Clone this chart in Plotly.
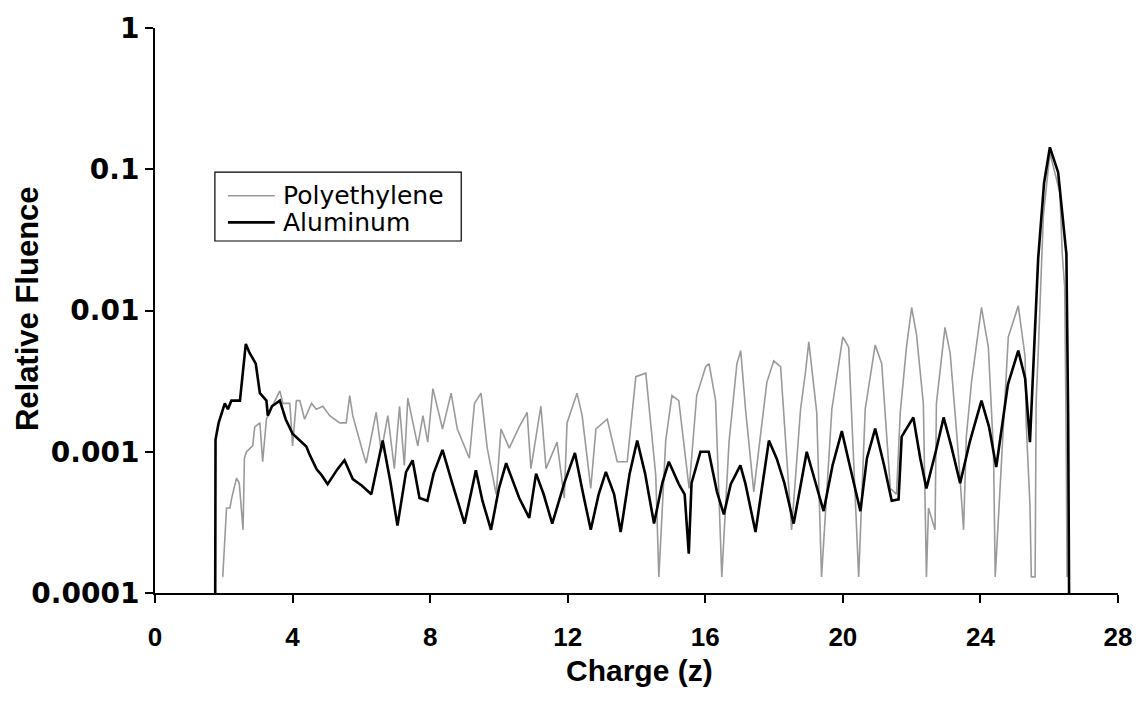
import plotly.graph_objects as go

# Aluminum (black) - charge z vs relative fluence
al_z = [1.75, 1.76, 1.85, 2.03, 2.12, 2.22, 2.47, 2.55, 2.64, 2.75, 2.93, 3.05, 3.24, 3.28, 3.40, 3.63,
        3.80, 4.00, 4.20, 4.40, 4.50, 4.70, 4.85, 5.02, 5.30, 5.51, 5.75, 6.00, 6.29, 6.62, 6.85, 7.05,
        7.30, 7.49, 7.69, 7.92, 8.10, 8.36, 8.65, 9.00, 9.33, 9.52, 9.77, 10.00, 10.21, 10.59, 10.88,
        11.08, 11.30, 11.55, 11.90, 12.21, 12.45, 12.67, 12.90, 13.11, 13.35, 13.54, 13.80, 14.02,
        14.25, 14.51, 14.75, 14.94, 15.23, 15.40, 15.52, 15.60, 15.86, 16.10, 16.34, 16.54, 16.74,
        17.02, 17.17, 17.46, 17.85, 18.08, 18.30, 18.57, 18.95, 19.20, 19.44, 19.70, 19.97, 20.20,
        20.51, 20.70, 20.94, 21.20, 21.42, 21.62, 21.71, 22.05, 22.25, 22.43, 22.70, 22.93, 23.15,
        23.41, 23.70, 24.03, 24.25, 24.46, 24.80, 25.10, 25.30, 25.44, 25.58, 25.68, 25.85, 26.02,
        26.26, 26.40, 26.50, 26.55, 26.58]
al_f = [0.00008, 0.00122, 0.0016, 0.0022, 0.0020, 0.0023, 0.0023, 0.0035, 0.0058, 0.0050, 0.0042,
        0.0026, 0.0023, 0.0018, 0.0021, 0.0023, 0.0017, 0.00134, 0.0012, 0.00109, 0.00095, 0.00075,
        0.00068, 0.00059, 0.00075, 0.00087, 0.00064, 0.00058, 0.0005, 0.0012, 0.0006, 0.0003,
        0.00072, 0.00087, 0.00047, 0.00045, 0.0007, 0.00103, 0.00059, 0.00031, 0.00074, 0.00045,
        0.00028, 0.00055, 0.00083, 0.00047, 0.00034, 0.0007, 0.0005, 0.00031, 0.0006, 0.00098,
        0.0005, 0.00028, 0.0005, 0.00072, 0.0005, 0.00027, 0.0007, 0.0012, 0.0007, 0.00031, 0.0006,
        0.00085, 0.00059, 0.0005, 0.00019, 0.0006, 0.001, 0.001, 0.00052, 0.00036, 0.00059, 0.0008,
        0.00059, 0.00027, 0.0012, 0.00089, 0.0006, 0.00031, 0.001, 0.0006, 0.00038, 0.0008, 0.0014,
        0.0008, 0.00038, 0.0009, 0.00146, 0.0008, 0.00045, 0.00046, 0.00128, 0.00175, 0.0009,
        0.00055, 0.001, 0.00175, 0.0011, 0.0006, 0.0012, 0.0023, 0.0015, 0.00078, 0.003, 0.0052,
        0.0033, 0.00117, 0.008, 0.0236, 0.08, 0.143, 0.095, 0.045, 0.025, 0.0018, 0.00008]

# Polyethylene (gray)
pe_z = [1.97, 2.08, 2.18, 2.23, 2.37, 2.45, 2.56, 2.60, 2.66, 2.84, 2.90, 3.05, 3.13, 3.24, 3.45,
        3.63, 3.72, 3.92, 4.00, 4.11, 4.21, 4.35, 4.55, 4.69, 4.88, 5.08, 5.37, 5.56, 5.66, 5.75,
        6.04, 6.14, 6.43, 6.58, 6.77, 6.96, 7.11, 7.25, 7.35, 7.64, 7.79, 7.93, 8.08, 8.36, 8.61,
        8.79, 9.14, 9.29, 9.48, 9.66, 9.92, 10.06, 10.30, 10.59, 10.82, 10.93, 11.22, 11.37, 11.69,
        11.90, 11.98, 12.27, 12.42, 12.67, 12.82, 13.15, 13.44, 13.73, 13.98, 14.27, 14.56, 14.65,
        14.85, 15.03, 15.23, 15.53, 15.75, 16.01, 16.11, 16.30, 16.48, 16.69, 16.92, 17.03, 17.17,
        17.41, 17.56, 17.79, 17.99, 18.19, 18.51, 18.77, 18.91, 19.01, 19.24, 19.38, 19.68, 20.00,
        20.17, 20.46, 20.65, 20.94, 21.13, 21.23, 21.38, 21.56, 21.67, 21.85, 22.00, 22.14, 22.34,
        22.43, 22.49, 22.68, 22.72, 22.97, 23.12, 23.36, 23.51, 23.59, 23.74, 24.03, 24.23, 24.38,
        24.43, 24.81, 25.10, 25.30, 25.33, 25.44, 25.48, 25.59, 25.62, 25.68, 25.83, 26.02, 26.31,
        26.38, 26.45, 26.49, 26.52]
pe_f = [0.00013, 0.0004, 0.0004, 0.00047, 0.00065, 0.0006, 0.00028, 0.0009, 0.001, 0.0011, 0.0015,
        0.0016, 0.00085, 0.0017, 0.0022, 0.0027, 0.0022, 0.0022, 0.0011, 0.0023, 0.0023, 0.0017,
        0.0022, 0.002, 0.0021, 0.0018, 0.0016, 0.0016, 0.0025, 0.0018, 0.001, 0.00083, 0.0019,
        0.001, 0.0018, 0.00076, 0.0021, 0.0008, 0.0024, 0.0011, 0.0018, 0.00117, 0.0028, 0.00145,
        0.0026, 0.00145, 0.0009, 0.0022, 0.0026, 0.00106, 0.0005, 0.00145, 0.00106, 0.0015, 0.0019,
        0.00076, 0.0021, 0.00076, 0.00117, 0.00047, 0.0016, 0.0026, 0.0018, 0.00055, 0.00145,
        0.0017, 0.00085, 0.00085, 0.0034, 0.0036, 0.00068, 0.00013, 0.0012, 0.0025, 0.0023, 0.00055,
        0.0025, 0.0040, 0.0042, 0.0023, 0.00013, 0.00117, 0.0042, 0.0052, 0.002, 0.00052, 0.00106,
        0.0031, 0.0044, 0.004, 0.00028, 0.002, 0.0036, 0.006, 0.0019, 0.00013, 0.002, 0.0065,
        0.0055, 0.00013, 0.002, 0.0057, 0.0042, 0.0019, 0.00055, 0.0005, 0.0019, 0.0055, 0.0105,
        0.0068, 0.0022, 0.00013, 0.0004, 0.00028, 0.0022, 0.0076, 0.005, 0.00095, 0.00028, 0.00128,
        0.0031, 0.0105, 0.0055, 0.001, 0.00013, 0.0065, 0.0108, 0.0047, 0.0016, 0.00042, 0.00013,
        0.00013, 0.0023, 0.005, 0.047, 0.13, 0.0685, 0.025, 0.0146, 0.0016, 0.00013]

x_ticks = [0, 4, 8, 12, 16, 20, 24, 28]
y_tickvals = [0.0001, 0.001, 0.01, 0.1, 1]
y_ticktext = ["0.0001", "0.001", "0.01", "0.1", "1"]
series_names = ["Polyethylene", "Aluminum"]
series_colors = ["#9a9a9a", "#000000"]
series_widths = [1.6, 2.6]
x_title = "Charge (z)"
y_title = "Relative Fluence"

fig = go.Figure()
fig.add_trace(go.Scatter(x=pe_z, y=pe_f, mode="lines", name=series_names[0], showlegend=False,
                         line=dict(color=series_colors[0], width=series_widths[0])))
fig.add_trace(go.Scatter(x=al_z, y=al_f, mode="lines", name=series_names[1], showlegend=False,
                         line=dict(color=series_colors[1], width=series_widths[1])))

# Legend drawn as a boxed key (paper coordinates of the plot area)
shapes = [dict(type="rect", xref="paper", yref="paper", x0=0.0622, x1=0.318, y0=0.623, y1=0.745,
               line=dict(color="black", width=1.2), fillcolor="white", layer="above")]
annotations = []
legend_rows_y = [0.703, 0.656]
for name, col, w, yy in zip(series_names, series_colors, series_widths, legend_rows_y):
    shapes.append(dict(type="line", xref="paper", yref="paper", x0=0.0757, x1=0.1244, y0=yy, y1=yy,
                       line=dict(color=col, width=w), layer="above"))
    annotations.append(dict(text=name, xref="paper", yref="paper", x=0.131, y=yy,
                            xanchor="left", yanchor="middle", showarrow=False,
                            font=dict(size=25, family="DejaVu Sans, sans-serif", color="black")))

annotations.append(dict(text="<b>" + x_title + "</b>", xref="paper", yref="paper", x=0.5026, y=-0.138,
                        xanchor="center", yanchor="middle", showarrow=False,
                        font=dict(size=30, family="Liberation Sans, Arial", color="black")))
annotations.append(dict(text="<b>" + y_title + "</b>", xref="paper", yref="paper", x=-0.1326, y=0.503,
                        xanchor="center", yanchor="middle", showarrow=False, textangle=-90,
                        font=dict(size=31, family="Liberation Sans, Arial", color="black")))

fig.update_layout(
    width=1144, height=704,
    margin=dict(l=155, r=24, t=20, b=111),
    paper_bgcolor="white", plot_bgcolor="white",
    font=dict(family="Liberation Sans, Arial, sans-serif", color="black"),
    shapes=shapes, annotations=annotations,
    showlegend=False,
)
fig.update_xaxes(range=[0, 28], tickvals=x_ticks, showgrid=False, zeroline=False,
                 showline=True, linecolor="black", linewidth=2,
                 ticks="outside", ticklen=8, tickwidth=2, tickcolor="black",
                 ticklabelstandoff=12,
                 tickfont=dict(size=26, family="Liberation Sans Narrow, Liberation Sans, Arial", weight="bold"))
fig.update_yaxes(type="log", range=[-4, 0], tickvals=y_tickvals, ticktext=y_ticktext,
                 showgrid=False, zeroline=False,
                 showline=True, linecolor="black", linewidth=2,
                 ticks="outside", ticklen=8, tickwidth=2, tickcolor="black",
                 tickfont=dict(size=28, family="DejaVu Sans, sans-serif", weight="bold"))

fig.write_html("out.html")
